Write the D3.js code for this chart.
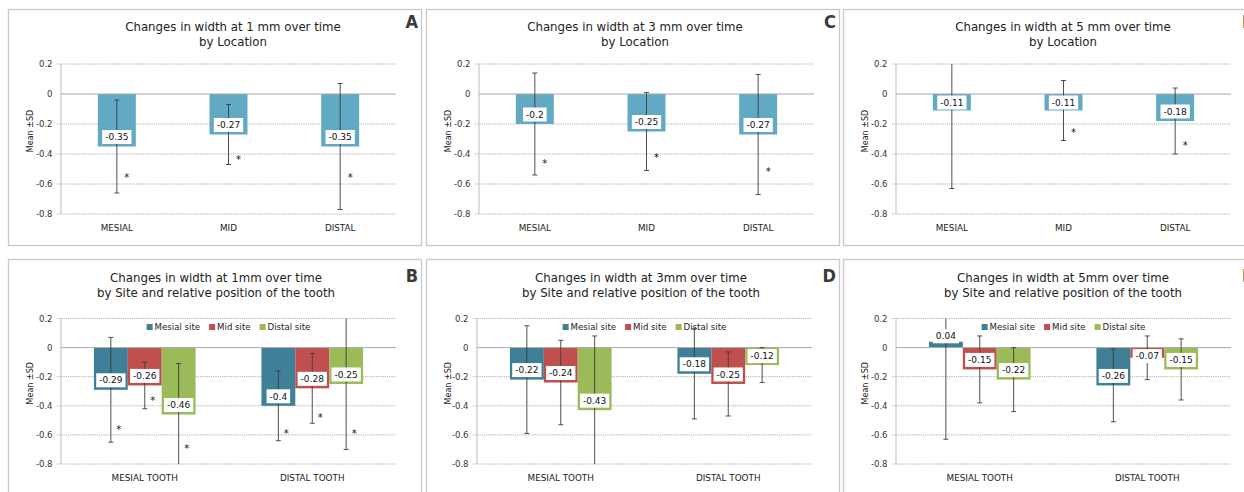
<!DOCTYPE html>
<html>
<head>
<meta charset="utf-8">
<script src="https://cdn.jsdelivr.net/npm/d3@7"></script>
<style>
body { margin: 0; background: #fff; }
svg { display: block; }
text { font-family: "DejaVu Sans", Verdana, sans-serif; }
</style>
</head>
<body>
<svg id="chart" width="1244" height="492"></svg>
<script>
// categories
var locations = ["MESIAL", "MID", "DISTAL"];
var teeth = ["MESIAL TOOTH", "DISTAL TOOTH"];
var sites = ["Mesial site", "Mid site", "Distal site"];
var yTicks = [0.2, 0, -0.2, -0.4, -0.6, -0.8];
var yTickLabels = ["0.2", "0", "-0.2", "-0.4", "-0.6", "-0.8"];

// by location (A, C, E): mean, SD, where the * sits (null = none)
var mean1 = [-0.35, -0.27, -0.35];
var sd1 = [0.31, 0.20, 0.42];
var star1 = [-0.54, -0.42, -0.54];
var mean3 = [-0.2, -0.25, -0.27];
var sd3 = [0.34, 0.26, 0.40];
var star3 = [-0.45, -0.41, -0.50];
var mean5 = [-0.11, -0.11, -0.18];
var sd5 = [0.52, 0.20, 0.22];
var star5 = [null, -0.24, -0.33];

// by site (B, D, F): one row per tooth, one column per site
var meanSite1 = [[-0.29, -0.26, -0.46], [-0.4, -0.28, -0.25]];
var sdSite1 = [[0.36, 0.16, 0.35], [0.24, 0.24, 0.45]];
var starSite1 = [[-0.55, -0.35, -0.68], [-0.58, -0.47, -0.58]];
var meanSite3 = [[-0.22, -0.24, -0.43], [-0.18, -0.25, -0.12]];
var sdSite3 = [[0.37, 0.29, 0.51], [0.31, 0.22, 0.12]];
var meanSite5 = [[0.04, -0.15, -0.22], [-0.26, -0.07, -0.15]];
var sdSite5 = [[0.67, 0.23, 0.22], [0.25, 0.15, 0.21]];

var locColor = "#62a9c4";
var siteColors = ["#3f7f97", "#c0504d", "#9bbb59"];

var rows = {
  top: { y: 9, h: 236, plotTop: 64, plotBottom: 214, titleY: [31, 46], letterY: 28 },
  bottom: { y: 259, h: 240, plotTop: 318.5, plotBottom: 464, titleY: [282, 296.5], letterY: 282, legendY: 327 }
};

var panels = [
  { letter: "A", row: "top", x: 8, w: 413, plotX: 61, titleX: 233,
    title: ["Changes in width at 1 mm over time", "by Location"], mean: mean1, sd: sd1, star: star1 },
  { letter: "C", row: "top", x: 426, w: 413, plotX: 479, titleX: 635,
    title: ["Changes in width at 3 mm over time", "by Location"], mean: mean3, sd: sd3, star: star3 },
  { letter: "E", row: "top", x: 843, w: 413, plotX: 896, titleX: 1063,
    title: ["Changes in width at 5 mm over time", "by Location"], mean: mean5, sd: sd5, star: star5 },
  { letter: "B", row: "bottom", x: 8, w: 413, plotX: 61, titleX: 216, grouped: true,
    title: ["Changes in width at 1mm over time", "by Site and relative position of the tooth"],
    mean: meanSite1, sd: sdSite1, star: starSite1 },
  { letter: "D", row: "bottom", x: 426, w: 413, plotX: 477, titleX: 641, grouped: true,
    title: ["Changes in width at 3mm over time", "by Site and relative position of the tooth"],
    mean: meanSite3, sd: sdSite3, star: null },
  { letter: "F", row: "bottom", x: 843, w: 413, plotX: 896, titleX: 1063, grouped: true,
    title: ["Changes in width at 5mm over time", "by Site and relative position of the tooth"],
    mean: meanSite5, sd: sdSite5, star: null }
];

var svg = d3.select("#chart");
var plotW = 335;

// title size: make the first line of A about as wide as in the picture (216px)
var probe = svg.append("text").style("font-size", "100px").text(panels[0].title[0]);
var titleSize = 100 * 216 / probe.node().getComputedTextLength();
probe.remove();

function drawPanel(p) {
  var r = rows[p.row];
  var g = svg.append("g");

  g.append("rect")
    .attr("x", p.x + 0.5).attr("y", r.y + 0.5)
    .attr("width", p.w).attr("height", r.h)
    .attr("fill", "#fff").attr("stroke", "#c8c8c8").attr("stroke-width", 1.3);

  g.append("text")
    .attr("x", p.x + p.w - 3).attr("y", r.letterY)
    .attr("text-anchor", "end")
    .style("font-family", "'DejaVu Sans Condensed', 'DejaVu Sans', sans-serif")
    .style("font-weight", "bold").style("font-size", "18px")
    .attr("fill", "#3a3a3a").text(p.letter);

  p.title.forEach(function (t, i) {
    g.append("text")
      .attr("x", p.titleX).attr("y", r.titleY[i])
      .attr("text-anchor", "middle")
      .style("font-size", titleSize + "px").attr("fill", "#222").text(t);
  });

  var y = d3.scaleLinear().domain([-0.8, 0.2]).range([r.plotBottom, r.plotTop]);
  var left = p.plotX, right = p.plotX + plotW;

  // grid + ticks
  g.selectAll(".grid").data(yTicks.filter(function (d) { return d !== 0; }))
    .enter().append("line")
    .attr("x1", left - 4).attr("x2", right)
    .attr("y1", function (d) { return y(d); }).attr("y2", function (d) { return y(d); })
    .attr("stroke", "#9a9a9a").attr("stroke-width", 0.8).attr("stroke-dasharray", "1.2,1");

  g.selectAll(".tick").data(yTicks).enter().append("text")
    .attr("x", left - 8.5).attr("y", function (d) { return y(d) + 3; })
    .attr("text-anchor", "end").style("font-size", "8.5px").attr("fill", "#333")
    .text(function (d, i) { return yTickLabels[i]; });

  g.append("line")
    .attr("x1", left).attr("x2", left)
    .attr("y1", y(0.2)).attr("y2", y(-0.8))
    .attr("stroke", "#bdbdbd").attr("stroke-width", 1);

  g.append("text")
    .attr("transform", "translate(" + (p.x + 25) + "," + ((r.plotTop + r.plotBottom) / 2 - 8) + ") rotate(-90)")
    .attr("text-anchor", "middle").style("font-size", "8px").attr("fill", "#222")
    .text("Mean \u00b1SD");

  // flatten bars
  var bars = [];
  if (p.grouped) {
    var x0 = d3.scaleBand().domain(teeth).range([left, right]);
    var groupW = x0.bandwidth() * 0.607;
    var x1 = d3.scaleBand().domain(sites).range([0, groupW]);
    teeth.forEach(function (t, ti) {
      sites.forEach(function (s, si) {
        var bx = x0(t) + (x0.bandwidth() - groupW) / 2 + x1(s);
        bars.push({ x: bx, w: x1.bandwidth(), v: p.mean[ti][si], sd: p.sd[ti][si],
          star: p.star ? p.star[ti][si] : null, color: siteColors[si], starDx: 8 });
      });
    });
    g.selectAll(".cat").data(teeth).enter().append("text")
      .attr("x", function (d) { return x0(d) + x0.bandwidth() / 2; })
      .attr("y", r.plotBottom + 17).attr("text-anchor", "middle")
      .style("font-size", "8.8px").attr("fill", "#222").text(function (d) { return d; });
  } else {
    var x = d3.scaleBand().domain(locations).range([left, right]);
    var bw = x.bandwidth() * 0.34;
    locations.forEach(function (c, i) {
      bars.push({ x: x(c) + (x.bandwidth() - bw) / 2, w: bw, v: p.mean[i], sd: p.sd[i],
        star: p.star[i], color: locColor, starDx: 10 });
    });
    g.selectAll(".cat").data(locations).enter().append("text")
      .attr("x", function (d) { return x(d) + x.bandwidth() / 2; })
      .attr("y", r.plotBottom + 17).attr("text-anchor", "middle")
      .style("font-size", "8.8px").attr("fill", "#222").text(function (d) { return d; });
  }

  g.selectAll(".bar").data(bars).enter().append("rect")
    .attr("x", function (d) { return d.x; })
    .attr("width", function (d) { return d.w; })
    .attr("y", function (d) { return Math.min(y(0), y(d.v)); })
    .attr("height", function (d) { return Math.abs(y(d.v) - y(0)); })
    .attr("fill", function (d) { return d.color; });

  g.append("line")
    .attr("x1", left).attr("x2", right).attr("y1", y(0)).attr("y2", y(0))
    .attr("stroke", "#a8a8a8").attr("stroke-width", 1);

  // error bars, clipped to the axis range
  var lo = -0.8, hi = 0.2;
  bars.forEach(function (d) {
    var cx = d.x + d.w / 2;
    var top = d.v + d.sd, bot = d.v - d.sd;
    var ct = Math.min(top, hi), cb = Math.max(bot, lo);
    g.append("line").attr("x1", cx).attr("x2", cx)
      .attr("y1", y(ct)).attr("y2", y(cb))
      .attr("stroke", "#3c3c3c").attr("stroke-width", 0.9);
    [[top, ct], [bot, cb]].forEach(function (e) {
      if (Math.abs(e[0] - e[1]) < 1e-9 && e[0] < hi - 0.004 && e[0] > lo + 0.004) {
        g.append("line").attr("x1", cx - 2.5).attr("x2", cx + 2.5)
          .attr("y1", y(e[0])).attr("y2", y(e[0]))
          .attr("stroke", "#3c3c3c").attr("stroke-width", 0.9);
      }
    });
  });

  // value labels on white boxes
  bars.forEach(function (d) {
    var cx = d.x + d.w / 2;
    var ye = y(d.v), y0 = y(0), yc;
    if (d.v < 0) yc = Math.max(ye - 9.5, y0 + 8.5);
    else yc = (y0 - ye < 18) ? ye - 5.5 : ye + 9.5;
    var lg = g.append("g");
    var box = lg.append("rect").attr("fill", "#fff");
    var t = lg.append("text").attr("x", cx).attr("y", yc + 3.2)
      .attr("text-anchor", "middle").style("font-size", "9px").attr("fill", "#111")
      .text(String(d.v));
    var tw = t.node().getComputedTextLength();
    box.attr("x", cx - tw / 2 - 3).attr("width", tw + 6)
      .attr("y", yc - 7).attr("height", 14);
  });

  // significance marks
  bars.forEach(function (d) {
    if (d.star === null || d.star === undefined) return;
    g.append("text").attr("x", d.x + d.w / 2 + d.starDx).attr("y", y(d.star) + 5.5)
      .attr("text-anchor", "middle").style("font-size", "10px").attr("fill", "#111").text("*");
  });

  // legend
  if (p.grouped) {
    var lgd = g.append("g");
    var cursor = 0;
    sites.forEach(function (s, i) {
      var it = lgd.append("g").attr("transform", "translate(" + cursor + ",0)");
      it.append("rect").attr("x", 0).attr("y", -3).attr("width", 6).attr("height", 6)
        .attr("fill", siteColors[i]);
      var tx = it.append("text").attr("x", 8).attr("y", 3.2)
        .style("font-size", "8.6px").attr("fill", "#222").text(s);
      cursor += 8 + tx.node().getComputedTextLength() + 9;
    });
    var total = cursor - 9;
    lgd.attr("transform", "translate(" + (left + plotW / 2 - total / 2) + "," + r.legendY + ")");
  }
}

panels.forEach(drawPanel);
</script>
</body>
</html>
